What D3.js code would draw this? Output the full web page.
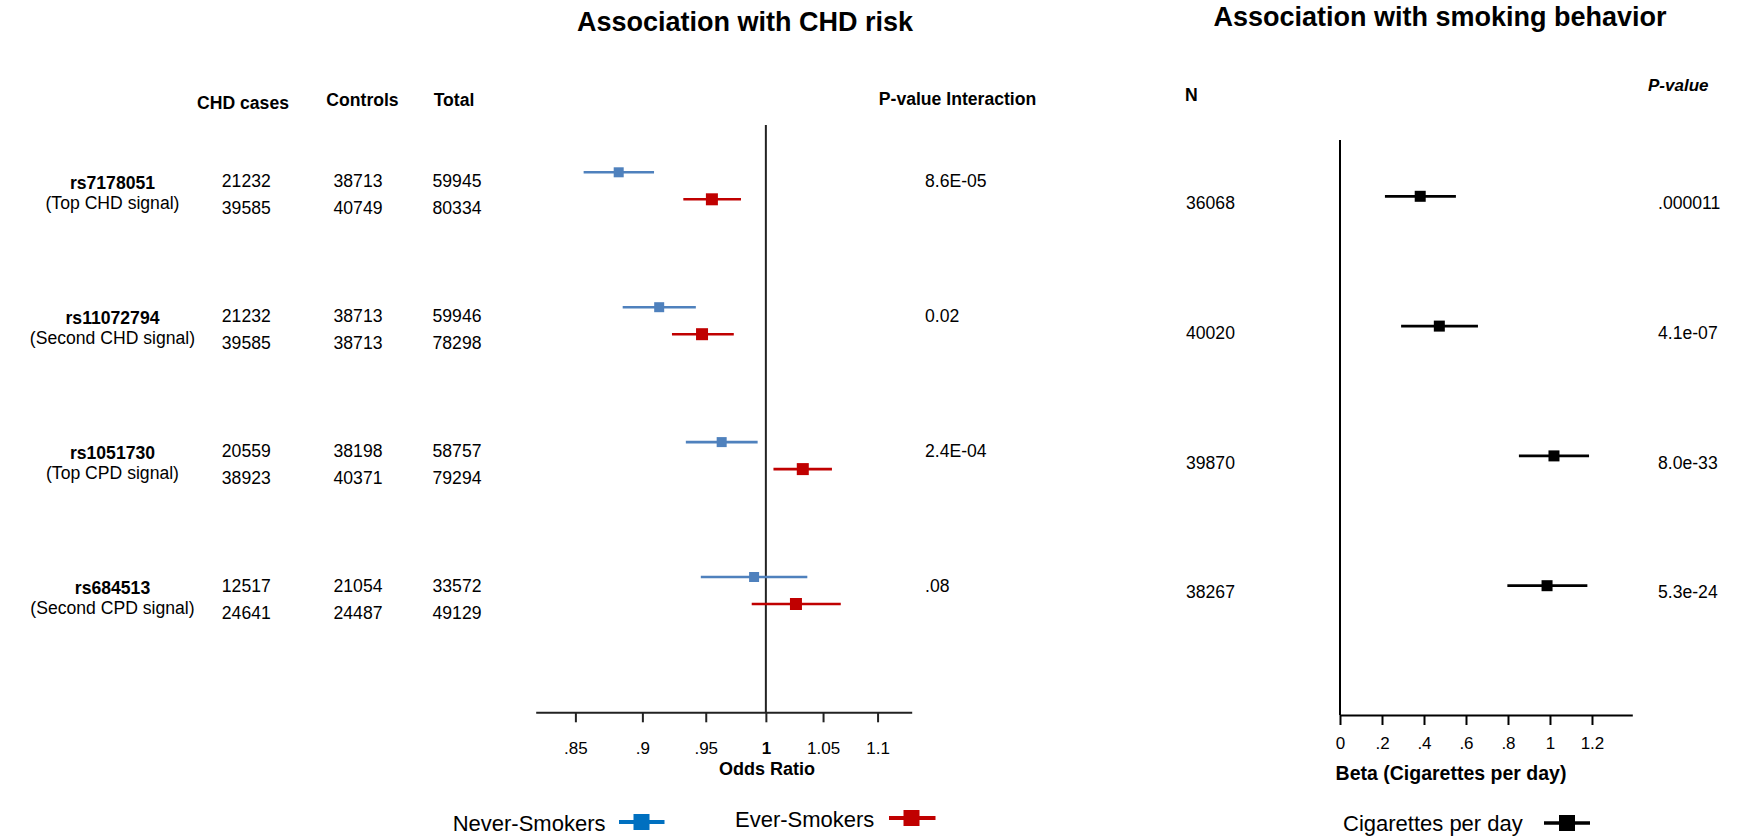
<!DOCTYPE html>
<html>
<head>
<meta charset="utf-8">
<script src="https://cdn.jsdelivr.net/npm/d3@7"></script>
<style>
  html, body { margin: 0; padding: 0; background: #fff; }
  svg { display: block; font-family: "Liberation Sans", Arial, sans-serif; }
</style>
</head>
<body>
<svg id="chart" width="1739" height="838"></svg>
<script>
// ---------------- DATA ----------------
const snps = ["rs7178051", "rs11072794", "rs1051730", "rs684513"];
const signals = ["(Top CHD signal)", "(Second CHD signal)", "(Top CPD signal)", "(Second CPD signal)"];
const casesNever = [21232, 21232, 20559, 12517];
const casesEver = [39585, 39585, 38923, 24641];
const controlsNever = [38713, 38713, 38198, 21054];
const controlsEver = [40749, 38713, 40371, 24487];
const totalNever = [59945, 59946, 58757, 33572];
const totalEver = [80334, 78298, 79294, 49129];
const pInteraction = ["8.6E-05", "0.02", "2.4E-04", ".08"];

const orNever = [0.882, 0.913, 0.963, 0.990];
const loNever = [0.856, 0.885, 0.934, 0.946];
const hiNever = [0.909, 0.942, 0.993, 1.036];
const orEver = [0.955, 0.947, 1.032, 1.026];
const loEver = [0.932, 0.923, 1.0065, 0.988];
const hiEver = [0.979, 0.973, 1.058, 1.066];

const nCpd = [36068, 40020, 39870, 38267];
const betaCpd = [0.382, 0.473, 1.019, 0.986];
const loCpd = [0.214, 0.291, 0.852, 0.797];
const hiCpd = [0.552, 0.657, 1.186, 1.178];
const pCpd = [".000011", "4.1e-07", "8.0e-33", "5.3e-24"];

const orTicks = [0.85, 0.9, 0.95, 1, 1.05, 1.1];
const orTickLabels = [".85", ".9", ".95", "1", "1.05", "1.1"];
const betaTicks = [0, 0.2, 0.4, 0.6, 0.8, 1, 1.2];
const betaTickLabels = ["0", ".2", ".4", ".6", ".8", "1", "1.2"];

// ---------------- STYLE ----------------
const BLUE = "#4F81BD", RED = "#C00000", LEG_BLUE = "#0070C0", AXIS = "#222";
const FS = 17.6;

const svg = d3.select("#chart");

// ---------------- SCALES ----------------
const xL = d3.scaleLog().domain([0.8217, 1.1325]).range([535.7, 911.7]);
const yL = d3.scaleLinear().domain([0, 3]).range([172.3, 577]);   // never-smoker row
const redOff = 27;
const xR = d3.scaleLinear().domain([0, 1.392]).range([1340, 1632.3]);
const yR = d3.scaleLinear().domain([0, 3]).range([196.3, 585.7]);

function txt(x, y, s, opts = {}) {
  return svg.append("text")
    .attr("x", x).attr("y", y).attr("dy", "0.35em")
    .attr("text-anchor", opts.anchor || "start")
    .attr("font-size", opts.size || FS)
    .attr("font-weight", opts.bold ? "bold" : "normal")
    .attr("font-style", opts.italic ? "italic" : "normal")
    .attr("fill", "#000")
    .text(s);
}

// ---------------- TITLES ----------------
txt(745, 22, "Association with CHD risk", { anchor: "middle", size: 27, bold: true });
txt(1440, 17, "Association with smoking behavior", { anchor: "middle", size: 27, bold: true });

// ---------------- LEFT TABLE ----------------
txt(243, 102.5, "CHD cases", { anchor: "middle", bold: true });
txt(362.5, 100, "Controls", { anchor: "middle", bold: true });
txt(454, 100, "Total", { anchor: "middle", bold: true });
txt(957.5, 98.7, "P-value Interaction", { anchor: "middle", bold: true });

snps.forEach((s, i) => {
  const top = yL(i) + 9;
  txt(112.5, top + 1.5, s, { anchor: "middle", bold: true });
  txt(112.5, top + 21.5, signals[i], { anchor: "middle" });
  txt(246.3, top, casesNever[i], { anchor: "middle" });
  txt(246.3, top + 26.5, casesEver[i], { anchor: "middle" });
  txt(358, top, controlsNever[i], { anchor: "middle" });
  txt(358, top + 26.5, controlsEver[i], { anchor: "middle" });
  txt(457, top, totalNever[i], { anchor: "middle" });
  txt(457, top + 26.5, totalEver[i], { anchor: "middle" });
  txt(925, top, pInteraction[i]);
});

// ---------------- LEFT FOREST ----------------
// reference line at OR = 1
svg.append("line")
  .attr("x1", xL(1)).attr("x2", xL(1))
  .attr("y1", 125).attr("y2", 712.3)
  .attr("stroke", AXIS).attr("stroke-width", 2);

const gAxL = svg.append("g").attr("transform", "translate(0,712.3)")
  .call(d3.axisBottom(xL).tickValues(orTicks)
    .tickFormat((d, i) => orTickLabels[i])
    .tickSize(10).tickSizeOuter(0));
gAxL.select(".domain").attr("stroke", AXIS).attr("stroke-width", 2);
gAxL.selectAll(".tick line").attr("stroke", AXIS).attr("stroke-width", 2);
gAxL.selectAll(".tick text")
  .attr("y", 36).attr("dy", "0.35em")
  .attr("font-size", 17).attr("fill", "#000")
  .attr("font-family", "Liberation Sans, Arial, sans-serif")
  .attr("font-weight", (d) => d === 1 ? "bold" : "normal");
txt(767, 769, "Odds Ratio", { anchor: "middle", size: 18, bold: true });

function forest(lo, hi, est, yf, color, sq, sw) {
  const g = svg.append("g");
  g.selectAll("line").data(est).join("line")
    .attr("x1", (d, i) => xL(lo[i])).attr("x2", (d, i) => xL(hi[i]))
    .attr("y1", (d, i) => yf(i)).attr("y2", (d, i) => yf(i))
    .attr("stroke", color).attr("stroke-width", sw);
  g.selectAll("rect").data(est).join("rect")
    .attr("x", d => xL(d) - sq / 2).attr("y", (d, i) => yf(i) - sq / 2)
    .attr("width", sq).attr("height", sq).attr("fill", color);
}
forest(loNever, hiNever, orNever, i => yL(i), BLUE, 10, 2.6);
forest(loEver, hiEver, orEver, i => yL(i) + redOff, RED, 12, 2.6);

// left legend
txt(452.7, 823, "Never-Smokers", { size: 22 });
svg.append("line").attr("x1", 619).attr("x2", 664.5).attr("y1", 822).attr("y2", 822)
  .attr("stroke", LEG_BLUE).attr("stroke-width", 3.8);
svg.append("rect").attr("x", 641.5 - 8).attr("y", 822 - 8).attr("width", 16).attr("height", 16).attr("fill", LEG_BLUE);
txt(735, 819, "Ever-Smokers", { size: 22 });
svg.append("line").attr("x1", 889).attr("x2", 935.5).attr("y1", 818).attr("y2", 818)
  .attr("stroke", RED).attr("stroke-width", 3.8);
svg.append("rect").attr("x", 911.5 - 8).attr("y", 818 - 8).attr("width", 16).attr("height", 16).attr("fill", RED);

// ---------------- RIGHT PANEL ----------------
txt(1185, 95, "N", { bold: true });
txt(1648, 85, "P-value", { bold: true, italic: true, size: 17 });

svg.append("line")
  .attr("x1", xR(0)).attr("x2", xR(0))
  .attr("y1", 140).attr("y2", 715)
  .attr("stroke", "#000").attr("stroke-width", 2);

const gAxR = svg.append("g").attr("transform", "translate(0,715)")
  .call(d3.axisBottom(xR).tickValues(betaTicks)
    .tickFormat((d, i) => betaTickLabels[i])
    .tickSize(10).tickSizeOuter(0));
gAxR.select(".domain").attr("stroke", "#000").attr("stroke-width", 2);
gAxR.selectAll(".tick line").attr("stroke", "#000").attr("stroke-width", 2);
gAxR.selectAll(".tick text")
  .attr("y", 28.3).attr("dy", "0.35em")
  .attr("font-size", 17).attr("fill", "#000")
  .attr("font-family", "Liberation Sans, Arial, sans-serif");
txt(1451, 773.3, "Beta (Cigarettes per day)", { anchor: "middle", size: 19.5, bold: true });

const gR = svg.append("g");
gR.selectAll("line").data(betaCpd).join("line")
  .attr("x1", (d, i) => xR(loCpd[i])).attr("x2", (d, i) => xR(hiCpd[i]))
  .attr("y1", (d, i) => yR(i)).attr("y2", (d, i) => yR(i))
  .attr("stroke", "#000").attr("stroke-width", 2.8);
gR.selectAll("rect").data(betaCpd).join("rect")
  .attr("x", d => xR(d) - 5.5).attr("y", (d, i) => yR(i) - 5.5)
  .attr("width", 11).attr("height", 11).attr("fill", "#000");

nCpd.forEach((n, i) => {
  txt(1186, yR(i) + 6.5, n);
  txt(1658, yR(i) + 6.5, pCpd[i]);
});

// right legend
txt(1343, 823, "Cigarettes per day", { size: 22 });
svg.append("line").attr("x1", 1544).attr("x2", 1590).attr("y1", 823).attr("y2", 823)
  .attr("stroke", "#000").attr("stroke-width", 3.5);
svg.append("rect").attr("x", 1567 - 8).attr("y", 823 - 8).attr("width", 16).attr("height", 16).attr("fill", "#000");
</script>
</body>
</html>
